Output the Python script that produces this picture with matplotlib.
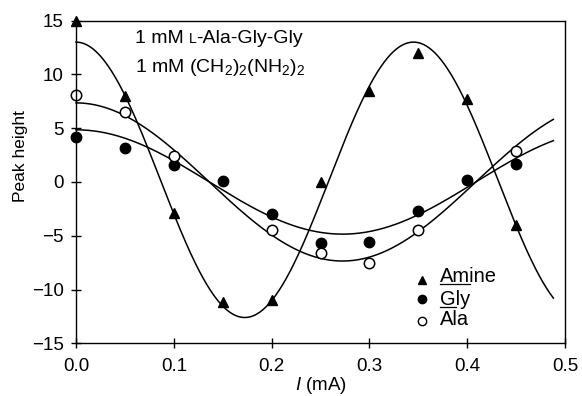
import numpy as np
import matplotlib
matplotlib.use("Agg")
import matplotlib.pyplot as plt
from matplotlib.transforms import offset_copy

plt.rcParams['font.family'] = ['Liberation Sans', 'DejaVu Sans']
plt.rcParams['mathtext.fontset'] = 'custom'
plt.rcParams['mathtext.rm'] = 'Liberation Sans'
plt.rcParams['mathtext.it'] = 'Liberation Sans:italic'

# Data
current = [0.0, 0.05, 0.10, 0.15, 0.20, 0.25, 0.30, 0.35, 0.40, 0.45]
amine = [15.0, 8.0, -2.9, -11.2, -11.0, 0.0, 8.5, 12.0, 7.7, -4.0]
gly = [4.2, 3.2, 1.6, 0.05, -3.0, -5.7, -5.6, -2.7, 0.2, 1.7]
ala_x = [0.0, 0.05, 0.10, 0.20, 0.25, 0.30, 0.35, 0.45]
ala = [8.1, 6.5, 2.4, -4.5, -6.6, -7.5, -4.5, 2.9]

# Fitted cosine curves: amplitude, period (mA), offset
amine_fit = dict(amp=12.8, period=0.345, offset=0.2)
gly_fit = dict(amp=4.85, period=0.545, offset=0.0)
ala_fit = dict(amp=7.35, period=0.545, offset=0.0)
fit_range = (0.0, 0.488)

xticks = [0.0, 0.1, 0.2, 0.3, 0.4, 0.5]
yticks = [-15, -10, -5, 0, 5, 10, 15]
legend_labels = ['Amine', 'Gly', 'Ala']
legend_underline = ['Am', 'G', '']

fig = plt.figure(figsize=(5.82, 3.96), dpi=100)
ax = fig.add_axes([0.1306, 0.133, 0.8404, 0.815])

xs = np.linspace(fit_range[0], fit_range[1], 400)
for p in (amine_fit, gly_fit, ala_fit):
    ax.plot(xs, p['amp'] * np.cos(2 * np.pi * xs / p['period']) + p['offset'],
            color='black', lw=1.1, clip_on=False)

ax.plot(current, amine, linestyle='none', marker='^', ms=6.5, color='black', clip_on=False)
ax.plot(current, gly, linestyle='none', marker='o', ms=7.5, color='black', clip_on=False)
ax.plot(ala_x, ala, linestyle='none', marker='o', ms=7.5, mfc='white', mec='black',
        mew=1.1, color='black', clip_on=False)

ax.set_xlim(0, 0.5)
ax.set_ylim(-15, 15)
ax.set_xticks(xticks)
ax.set_xticklabels([f"{t:.1f}" for t in xticks])
ax.set_yticks(yticks)
ax.set_yticklabels([str(t).replace('-', '\u2212') for t in yticks])
ax.tick_params(direction='inout', length=7.5, width=1.0, labelsize=13.5)
ax.tick_params(axis='x', pad=6.5)
ax.tick_params(axis='y', pad=5.0)
for s in ax.spines.values():
    s.set_linewidth(1.0)

ax.set_ylabel('Peak height', fontsize=12.5)
ax.yaxis.set_label_coords(-0.098, 0.58)
ax.set_xlabel(r'$\mathit{I}$ (mA)', fontsize=13.5, labelpad=0)

# Annotation with small-caps "L"
fig.canvas.draw()
r = fig.canvas.get_renderer()
fs = 14
t1 = ax.text(0.06, 12.9, '1 mM ', fontsize=fs, va='baseline', ha='left')
w1 = t1.get_window_extent(r).width
t2 = ax.text(0.06, 12.9, 'L', fontsize=fs * 0.72, va='baseline', ha='left',
             transform=offset_copy(ax.transData, fig=fig, x=w1, y=0, units='dots'))
w2 = t2.get_window_extent(r).width
ax.text(0.06, 12.9, '-Ala-Gly-Gly', fontsize=fs, va='baseline', ha='left',
        transform=offset_copy(ax.transData, fig=fig, x=w1 + w2, y=0, units='dots'))
ax.text(0.06, 10.26, r'1 mM (CH$_2$)$_2$(NH$_2$)$_2$', fontsize=fs, va='baseline', ha='left')

# Manual legend
marker_y = [0.197, 0.137, 0.069]
text_y = [0.191, 0.119, 0.057]
styles = [dict(marker='^', ms=5.5, color='black'),
          dict(marker='o', ms=6.0, color='black'),
          dict(marker='o', ms=6.0, mfc='white', mec='black', mew=1.0, color='black')]
lfs = 14.5
ax_w_px = ax.get_window_extent(r).width
under_tr = offset_copy(ax.transAxes, fig=fig, x=0, y=-2, units='dots')
for lab, ul, my, ty, st in zip(legend_labels, legend_underline, marker_y, text_y, styles):
    ax.plot([0.7076], [my], ls='none', transform=ax.transAxes, clip_on=False, **st)
    ax.text(0.744, ty, lab, fontsize=lfs, va='baseline', ha='left', transform=ax.transAxes)
    if ul:
        tmp = ax.text(0.744, ty, ul, fontsize=lfs, va='baseline', ha='left', transform=ax.transAxes)
        uw = tmp.get_window_extent(r).width / ax_w_px
        tmp.remove()
        ax.plot([0.744, 0.744 + uw], [ty, ty], color='black', lw=0.9,
                transform=under_tr, clip_on=False)

fig.savefig('out.png', dpi=100)
